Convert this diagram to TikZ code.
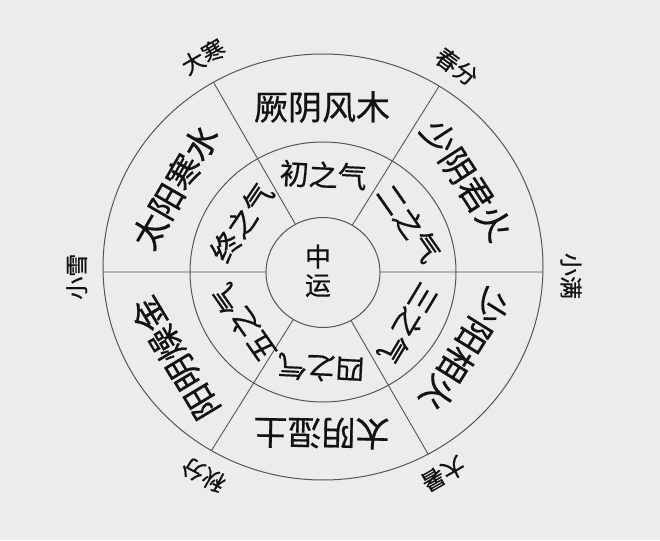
\documentclass[tikz,border=0pt]{standalone}
\usepackage{fontspec}
\newfontfamily\cjk[FakeBold=0.6,AutoFakeBold=0.6]{Noto Sans CJK SC}
\usetikzlibrary{intersections}
\definecolor{bg}{RGB}{236,236,236}
\definecolor{ln}{RGB}{85,85,85}
\definecolor{tx}{RGB}{18,18,18}
\tikzset{
  ring/.style={draw=ln, line width=1pt},
  divider/.style={draw=ln, line width=0.9pt},
  outerlbl/.style={font=\cjk\fontsize{34}{34}\selectfont, text=tx, inner sep=0pt},
  midlbl/.style={font=\cjk\fontsize{29}{29}\selectfont, text=tx, inner sep=0pt},
  centerlbl/.style={font=\cjk\fontsize{26}{26}\selectfont, text=tx, inner sep=0pt},
  seasonlbl/.style={font=\cjk\fontsize{23}{23}\selectfont, text=tx, inner sep=0pt}
}
\begin{document}
\begin{tikzpicture}[x=1pt,y=1pt]
\useasboundingbox (-323,-268) rectangle (337,272);
\fill[bg] (-323,-268) rectangle (337,272);

% rings
\path[ring, name path=outerE] (0,5) ellipse [x radius=220, y radius=213];
\path[ring, name path=midE] (0,0) ellipse [x radius=133, y radius=130];
\path[ring, name path=innerE] (0,-0.5) ellipse [x radius=57, y radius=55];

% dividers
\foreach \a/\n in {0/0,58/1,120/2,180/3,238/4,300/5} {
  \path[name path=ray] (0,0) -- (\a:300);
  \path[name intersections={of=outerE and ray, by=o\n}];
  \path[name intersections={of=innerE and ray, by=i\n}];
  \draw[divider] (i\n) -- (o\n);
}

% outer ring labels
\node[outerlbl] (jueyin)   at (-1,165)     {厥阴风木};
\node[outerlbl, rotate=-57] (shaoyin) at (143.7,92) {少阴君火};
\node[outerlbl, rotate=-122] (shaoyang) at (142,-78) {少阳相火};
\node[outerlbl, rotate=179] (taiyin) at (-1.5,-161) {太阴湿土};
\node[outerlbl, rotate=121] (yangming) at (-148,-86.3) {阳明燥金};
\node[outerlbl, rotate=60] (taiyang) at (-148,85.3) {太阳寒水};

% middle ring labels
\node[midlbl, rotate=-3] (q1) at (0.3,97) {初之气};
\node[midlbl, rotate=-55] (q2) at (86,49) {二之气};
\node[midlbl, rotate=-121] (q3) at (85.3,-51.3) {三之气};
\node[midlbl, rotate=177] (q4) at (-2,-96) {四之气};
\node[midlbl, rotate=125] (q5) at (-79,-51) {五之气};
\node[midlbl, rotate=56] (q6) at (-81.3,49.5) {终之气};

% centre
\node[centerlbl] (zhong) at (-5,15.3) {中};
\node[centerlbl] (yun) at (-5,-13.7) {运};

% seasonal markers
\node[seasonlbl, rotate=30] (dahan) at (-119.7,215.3) {大寒};
\node[seasonlbl, rotate=-36] (chunfen) at (133.7,205.3) {春分};
\node[seasonlbl, rotate=-90] (xiaoman) at (248,-4) {小满};
\node[seasonlbl, rotate=-150] (dashu) at (120.3,-202.2) {大暑};
\node[seasonlbl, rotate=152] (qiufen) at (-119.7,-203) {秋分};
\node[seasonlbl, rotate=90] (xiaoxue) at (-246.3,-4.7) {小雪};
\end{tikzpicture}
\end{document}
